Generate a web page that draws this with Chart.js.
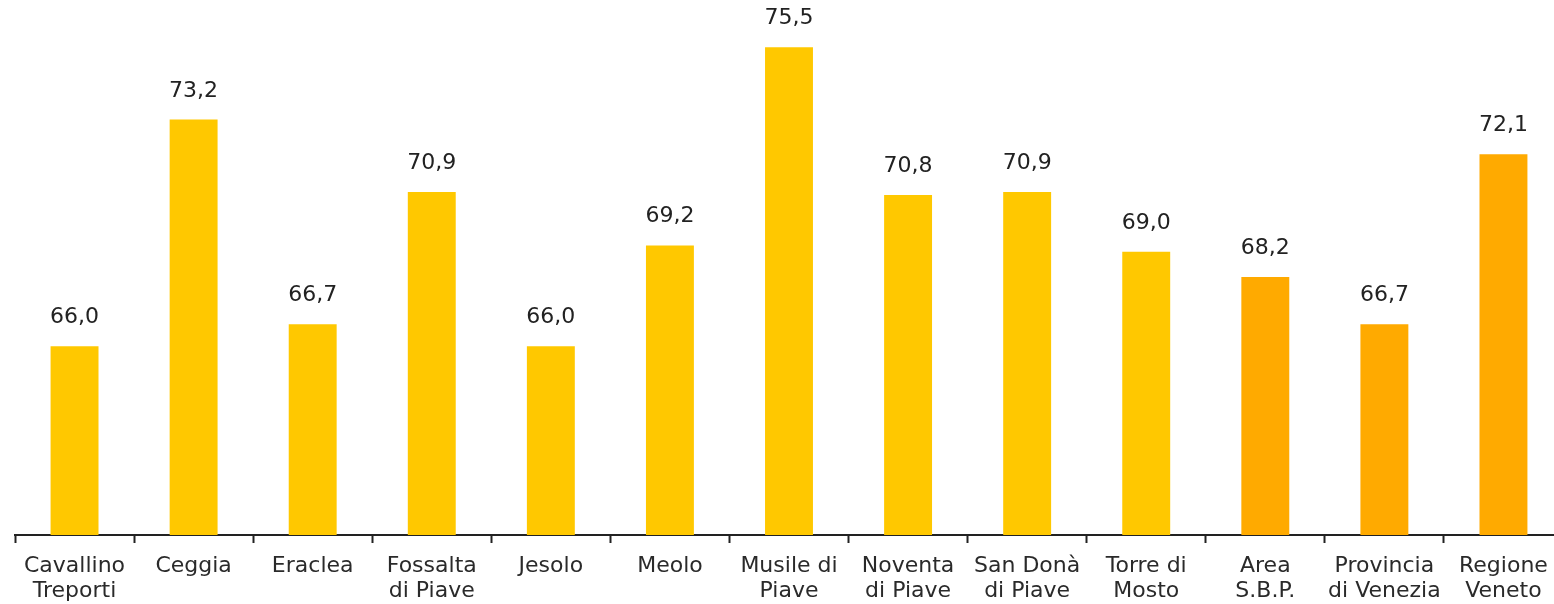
<!DOCTYPE html>
<html>
<head>
<meta charset="utf-8">
<script src="https://cdn.jsdelivr.net/npm/chart.js@4/dist/chart.umd.min.js"></script>
<style>
  html, body { margin: 0; padding: 0; background: #fff; overflow: hidden; }
  #wrap { width: 1575px; height: 604px; position: relative; }
</style>
</head>
<body>
<div id="wrap"><canvas id="chartComuni"></canvas></div>
<script>
// categorie e valori
const comuni = [
  ['Cavallino', 'Treporti'], ['Ceggia'], ['Eraclea'], ['Fossalta', 'di Piave'], ['Jesolo'],
  ['Meolo'], ['Musile di', 'Piave'], ['Noventa', 'di Piave'], ['San Donà', 'di Piave'],
  ['Torre di', 'Mosto'], ['Area', 'S.B.P.'], ['Provincia', 'di Venezia'], ['Regione', 'Veneto']
];
const valori = [66.0, 73.2, 66.7, 70.9, 66.0, 69.2, 75.5, 70.8, 70.9, 69.0, 68.2, 66.7, 72.1];
const coloriBarre = ['#FFC800', '#FFC800', '#FFC800', '#FFC800', '#FFC800', '#FFC800', '#FFC800',
  '#FFC800', '#FFC800', '#FFC800', '#FFAA00', '#FFAA00', '#FFAA00'];

const FONT = '"DejaVu Sans", sans-serif';

// etichette dei valori sopra le barre (virgola decimale)
const etichetteValori = {
  id: 'etichetteValori',
  afterDatasetsDraw(chart) {
    const ctx = chart.ctx;
    const meta = chart.getDatasetMeta(0);
    ctx.save();
    ctx.font = '22px ' + FONT;
    ctx.fillStyle = '#222';
    ctx.textAlign = 'center';
    ctx.textBaseline = 'alphabetic';
    meta.data.forEach((bar, i) => {
      ctx.fillText(valori[i].toFixed(1).replace('.', ','), bar.x, bar.y - 23);
    });
    ctx.restore();
  }
};

new Chart(document.getElementById('chartComuni'), {
  type: 'bar',
  data: {
    labels: comuni,
    datasets: [{
      data: valori,
      backgroundColor: coloriBarre,
      borderWidth: 0,
      barPercentage: 0.5,
      categoryPercentage: 0.805
    }]
  },
  options: {
    responsive: true,
    maintainAspectRatio: false,
    animation: false,
    layout: { padding: { left: 15, right: 12, top: 0, bottom: -11 } },
    plugins: { legend: { display: false }, tooltip: { enabled: false } },
    scales: {
      x: {
        border: { color: '#222', width: 2 },
        grid: {
          display: true, drawOnChartArea: false, drawTicks: true, offset: true,
          tickLength: 8, tickColor: '#222', tickWidth: 2
        },
        ticks: {
          color: '#2a2a2a', padding: 11, maxRotation: 0, autoSkip: false,
          font: { family: FONT, size: 22, lineHeight: 1.136 }
        }
      },
      y: {
        display: false,
        min: 60,
        max: 77
      }
    }
  },
  plugins: [etichetteValori]
});
</script>
</body>
</html>
